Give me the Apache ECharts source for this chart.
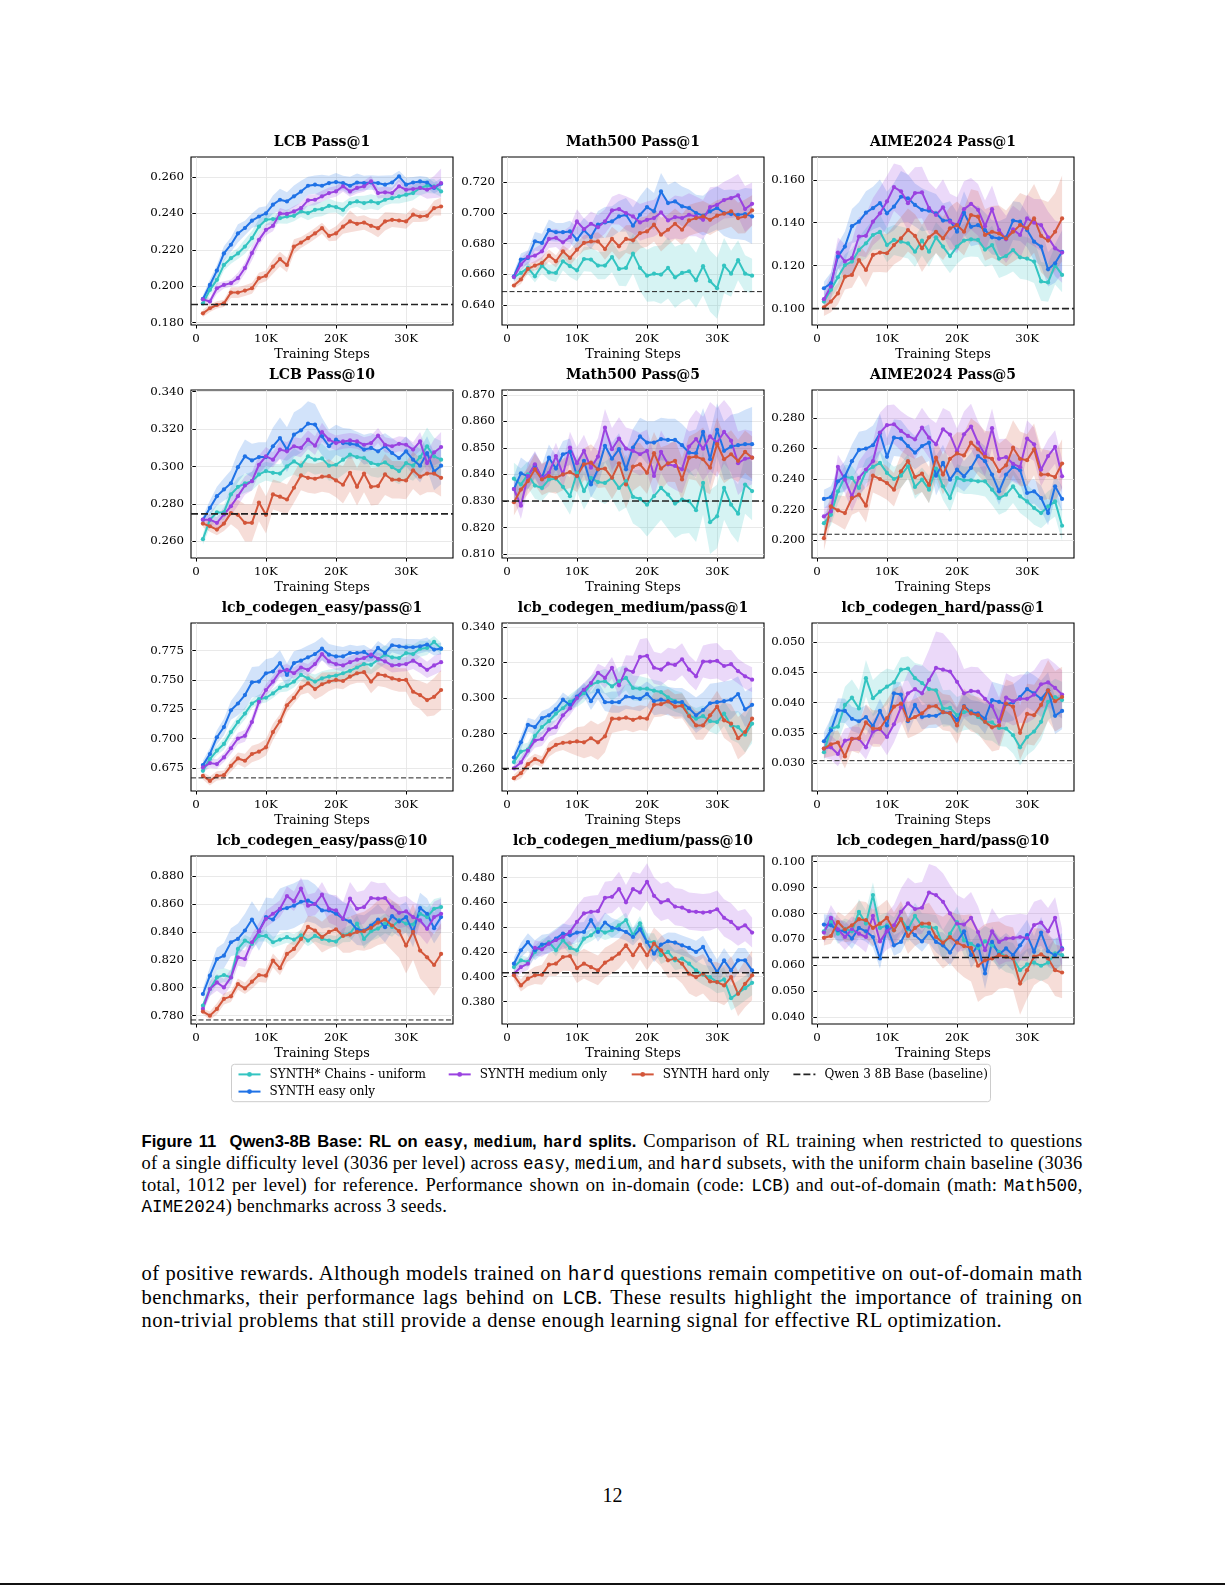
<!DOCTYPE html>
<html><head><meta charset="utf-8">
<script src="https://cdn.jsdelivr.net/npm/echarts@6/dist/echarts.min.js"></script>
<style>
html,body{margin:0;padding:0;background:#fff;}
body{width:1225px;height:1585px;position:relative;overflow:hidden;}
#chart{position:absolute;left:0;top:0;width:1225px;height:1120px;}
.ln{position:absolute;left:141.5px;white-space:nowrap;font-family:'Liberation Serif','Times New Roman',serif;color:#000;}
.cap{font-size:18.5px;line-height:22px;height:22px;letter-spacing:0.25px;}
.body{font-size:20.5px;line-height:24px;height:24px;letter-spacing:0.45px;}
.fig{font-family:'Liberation Sans',Arial,sans-serif;font-weight:bold;font-size:16.6px;letter-spacing:0;}
.mb{font-family:'Liberation Mono',monospace;font-weight:bold;font-size:0.97em;}
.m{font-family:'Liberation Mono',monospace;font-size:0.95em;letter-spacing:0;}
#pg{position:absolute;left:0;width:1225px;text-align:center;top:1483px;font-family:'Liberation Serif',serif;font-size:20px;line-height:24px;}
#edge{position:absolute;left:0;top:1583px;width:1225px;height:2px;background:#111;}
</style></head><body>
<div id="chart"></div>
<div class="ln cap j" style="top:1130px"><span class="fig">Figure 11&nbsp;&nbsp;Qwen3-8B Base: RL on <span class="mb">easy</span>, <span class="mb">medium</span>, <span class="mb">hard</span> splits.</span> Comparison of RL training when restricted to questions</div>
<div class="ln cap j" style="top:1152.3px">of a single difficulty level (3036 per level) across <span class="m">easy</span>, <span class="m">medium</span>, and <span class="m">hard</span> subsets, with the uniform chain baseline (3036</div>
<div class="ln cap j" style="top:1173.6px">total, 1012 per level) for reference. Performance shown on in-domain (code: <span class="m">LCB</span>) and out-of-domain (math: <span class="m">Math500</span>,</div>
<div class="ln cap" style="top:1194.8px"><span class="m">AIME2024</span>) benchmarks across 3 seeds.</div>
<div class="ln body j" style="top:1260.5px">of positive rewards. Although models trained on <span class="m">hard</span> questions remain competitive on out-of-domain math</div>
<div class="ln body j" style="top:1284.7px">benchmarks, their performance lags behind on <span class="m">LCB</span>. These results highlight the importance of training on</div>
<div class="ln body" style="top:1308px">non-trivial problems that still provide a dense enough learning signal for effective RL optimization.</div>
<div id="pg">12</div>
<div id="edge"></div>
<script>
// ---------------- DATA ----------------
const steps = [1000,2000,3000,4000,5000,6000,7000,8000,9000,10000,11000,12000,13000,14000,15000,16000,17000,18000,19000,20000,21000,22000,23000,24000,25000,26000,27000,28000,29000,30000,31000,32000,33000,34000,35000];
const xTicks = [0,10000,20000,30000];
const seriesLabels = ['SYNTH* Chains - uniform','SYNTH easy only','SYNTH medium only','SYNTH hard only'];
const baselineLabel = 'Qwen 3 8B Base (baseline)';
const plotTitles = ['LCB Pass@1','Math500 Pass@1','AIME2024 Pass@1','LCB Pass@10','Math500 Pass@5','AIME2024 Pass@5','lcb_codegen_easy/pass@1','lcb_codegen_medium/pass@1','lcb_codegen_hard/pass@1','lcb_codegen_easy/pass@10','lcb_codegen_medium/pass@10','lcb_codegen_hard/pass@10'];
const baselineValues = [0.190,0.6487,0.100,0.2746,0.830,0.2037,0.6664,0.2604,0.0304,0.7769,0.4032,0.063];

const yTicks_lcb1 = [0.18,0.20,0.22,0.24,0.26];
const yTicks_math1 = [0.64,0.66,0.68,0.70,0.72];
const yTicks_aime1 = [0.10,0.12,0.14,0.16];
const yTicks_lcb10 = [0.26,0.28,0.30,0.32,0.34];
const yTicks_math5 = [0.81,0.82,0.83,0.84,0.85,0.86,0.87];
const yTicks_aime5 = [0.20,0.22,0.24,0.26,0.28];
const yTicks_easy1 = [0.675,0.700,0.725,0.750,0.775];
const yTicks_med1 = [0.26,0.28,0.30,0.32,0.34];
const yTicks_hard1 = [0.030,0.035,0.040,0.045,0.050];
const yTicks_easy10 = [0.78,0.80,0.82,0.84,0.86,0.88];
const yTicks_med10 = [0.38,0.40,0.42,0.44,0.46,0.48];
const yTicks_hard10 = [0.04,0.05,0.06,0.07,0.08,0.09,0.10];

// 1 LCB Pass@1
const lcb1_uniform = [0.1906,0.198,0.2035,0.2117,0.2154,0.218,0.2218,0.2264,0.2328,0.2365,0.2369,0.2374,0.2383,0.2387,0.2411,0.2402,0.242,0.2424,0.2442,0.2435,0.242,0.2457,0.2466,0.2457,0.2466,0.2457,0.2475,0.2484,0.2494,0.2503,0.2512,0.254,0.2552,0.2549,0.2521];
const lcb1_easy = [0.193,0.2007,0.2086,0.218,0.2228,0.229,0.232,0.236,0.2383,0.240,0.2448,0.2475,0.2466,0.2494,0.252,0.2552,0.2558,0.2552,0.2567,0.2572,0.2567,0.2552,0.257,0.2567,0.257,0.2567,0.2558,0.257,0.2604,0.2558,0.257,0.2576,0.257,0.254,0.2563];
const lcb1_medium = [0.1928,0.1916,0.1989,0.2007,0.2017,0.2044,0.21,0.2182,0.2255,0.231,0.2332,0.240,0.2398,0.2411,0.2429,0.2472,0.2475,0.2494,0.2512,0.2521,0.2549,0.2521,0.254,0.2549,0.2576,0.2512,0.2516,0.2512,0.2549,0.253,0.2534,0.254,0.253,0.2545,0.2567];
const lcb1_hard = [0.1851,0.1879,0.1897,0.1906,0.1965,0.1965,0.1976,0.1989,0.2044,0.2057,0.2108,0.2149,0.2117,0.2218,0.224,0.2264,0.229,0.2319,0.2277,0.229,0.2328,0.2356,0.2343,0.235,0.2332,0.2319,0.2356,0.2365,0.2361,0.2356,0.2393,0.2383,0.2387,0.2429,0.2438];
const lcb1_uniform_sd = [0.002,0.003,0.003,0.003,0.003,0.003,0.004,0.004,0.004,0.003,0.003,0.003,0.004,0.003,0.003,0.004,0.004,0.004,0.004,0.003,0.004,0.003,0.003,0.004,0.004,0.004,0.003,0.003,0.004,0.004,0.004,0.004,0.004,0.004,0.003];
const lcb1_easy_sd = [0.002,0.003,0.003,0.004,0.004,0.005,0.004,0.004,0.005,0.004,0.005,0.006,0.005,0.006,0.006,0.005,0.005,0.006,0.004,0.005,0.004,0.005,0.005,0.004,0.004,0.004,0.005,0.004,0.003,0.004,0.003,0.003,0.003,0.003,0.003];
const lcb1_medium_sd = [0.002,0.002,0.003,0.002,0.002,0.003,0.003,0.004,0.003,0.003,0.003,0.003,0.002,0.003,0.003,0.003,0.003,0.003,0.003,0.003,0.003,0.003,0.003,0.003,0.003,0.003,0.003,0.003,0.004,0.004,0.003,0.004,0.005,0.006,0.008];
const lcb1_hard_sd = [0.002,0.002,0.002,0.002,0.003,0.003,0.003,0.003,0.003,0.003,0.004,0.004,0.004,0.004,0.003,0.003,0.003,0.003,0.003,0.004,0.004,0.006,0.004,0.004,0.004,0.005,0.005,0.004,0.004,0.004,0.004,0.003,0.003,0.004,0.005];

// 2 Math500 Pass@1
const math1_uniform = [0.6582,0.6609,0.6642,0.6587,0.6657,0.6613,0.6609,0.6685,0.6653,0.6626,0.670,0.6696,0.6657,0.6657,0.6713,0.6635,0.6642,0.6735,0.6642,0.6591,0.6604,0.6598,0.6642,0.658,0.6609,0.662,0.6561,0.6653,0.6555,0.6509,0.6657,0.6604,0.6692,0.6604,0.6591];
const math1_easy = [0.6587,0.6696,0.6707,0.6816,0.6805,0.6888,0.6875,0.6875,0.688,0.6827,0.6888,0.6843,0.6924,0.6939,0.6945,0.6978,0.6989,0.6917,0.6989,0.7039,0.7011,0.7141,0.7065,0.7076,0.7044,0.7033,0.700,0.6983,0.7011,0.7033,0.700,0.6993,0.6989,0.6993,0.6978];
const math1_medium = [0.6582,0.6663,0.6713,0.6722,0.675,0.6831,0.6838,0.6809,0.6843,0.6945,0.6895,0.693,0.6908,0.6945,0.7017,0.7026,0.700,0.6978,0.6939,0.6956,0.6967,0.7004,0.6952,0.6974,0.6967,0.6989,0.6978,0.6956,0.7039,0.7054,0.7085,0.7098,0.7115,0.7026,0.706];
const math1_hard = [0.6527,0.6566,0.6635,0.6657,0.6674,0.6722,0.6685,0.675,0.6707,0.6761,0.6805,0.6815,0.6815,0.6765,0.6831,0.6783,0.6831,0.6822,0.6869,0.688,0.6924,0.6859,0.6891,0.693,0.6891,0.6952,0.6967,0.6978,0.6956,0.6983,0.6996,0.7011,0.6967,0.6978,0.7017];
const math1_uniform_sd = [0.003,0.003,0.004,0.004,0.005,0.005,0.006,0.006,0.007,0.007,0.008,0.008,0.009,0.009,0.010,0.011,0.012,0.013,0.015,0.017,0.018,0.019,0.020,0.020,0.019,0.018,0.018,0.019,0.020,0.020,0.018,0.015,0.013,0.012,0.011];
const math1_easy_sd = [0.003,0.004,0.005,0.006,0.006,0.007,0.006,0.006,0.007,0.008,0.008,0.008,0.009,0.010,0.010,0.010,0.011,0.012,0.012,0.013,0.012,0.012,0.012,0.013,0.013,0.012,0.012,0.013,0.014,0.014,0.015,0.016,0.016,0.017,0.018];
const math1_medium_sd = [0.003,0.004,0.004,0.005,0.005,0.006,0.006,0.007,0.007,0.008,0.007,0.008,0.008,0.008,0.009,0.010,0.011,0.011,0.012,0.012,0.012,0.013,0.013,0.014,0.014,0.014,0.013,0.013,0.013,0.012,0.012,0.013,0.014,0.015,0.014];
const math1_hard_sd = [0.002,0.003,0.003,0.003,0.004,0.004,0.004,0.004,0.005,0.005,0.005,0.005,0.006,0.007,0.008,0.009,0.009,0.010,0.010,0.010,0.011,0.011,0.010,0.010,0.010,0.010,0.010,0.010,0.010,0.010,0.010,0.010,0.010,0.011,0.010];

// 3 AIME2024 Pass@1
const aime1_uniform = [0.1033,0.1088,0.1146,0.1203,0.1219,0.1273,0.1304,0.1343,0.1358,0.1296,0.132,0.1312,0.1304,0.1265,0.1317,0.1265,0.1332,0.1289,0.1245,0.1289,0.1317,0.1323,0.132,0.1275,0.1296,0.1233,0.1245,0.1273,0.1239,0.1233,0.1219,0.1127,0.1122,0.1203,0.1157];
const aime1_easy = [0.1095,0.1118,0.1242,0.1289,0.1384,0.1405,0.1447,0.1468,0.1491,0.1444,0.1475,0.1521,0.1514,0.1483,0.146,0.1456,0.1444,0.141,0.141,0.1358,0.1447,0.1381,0.1389,0.1366,0.1332,0.1327,0.1332,0.141,0.1405,0.1366,0.1312,0.1289,0.1183,0.1211,0.1265];
const aime1_medium = [0.1044,0.1103,0.1261,0.122,0.1235,0.1336,0.1339,0.1405,0.1444,0.1499,0.1566,0.1546,0.1491,0.1538,0.1541,0.1468,0.1436,0.1472,0.1405,0.1389,0.1463,0.1488,0.146,0.1384,0.1463,0.1366,0.1323,0.1369,0.1343,0.142,0.140,0.1389,0.1332,0.1281,0.1261];
const aime1_hard = [0.1006,0.1033,0.1071,0.1149,0.1157,0.1226,0.118,0.125,0.1261,0.1258,0.1296,0.1327,0.1366,0.1339,0.1281,0.1332,0.1358,0.1327,0.1374,0.1389,0.1358,0.1436,0.1428,0.1343,0.1358,0.135,0.1327,0.1358,0.1389,0.1374,0.142,0.1339,0.1317,0.1358,0.142];
const aime1_uniform_sd = [0.003,0.004,0.005,0.005,0.006,0.006,0.007,0.007,0.008,0.008,0.007,0.007,0.007,0.007,0.007,0.007,0.007,0.008,0.008,0.008,0.008,0.008,0.008,0.008,0.009,0.009,0.009,0.010,0.010,0.010,0.010,0.009,0.009,0.009,0.008];
const aime1_easy_sd = [0.003,0.005,0.006,0.007,0.008,0.009,0.010,0.010,0.011,0.010,0.011,0.012,0.011,0.010,0.010,0.009,0.009,0.008,0.009,0.009,0.010,0.009,0.009,0.008,0.008,0.008,0.009,0.009,0.009,0.008,0.009,0.009,0.008,0.009,0.010];
const aime1_medium_sd = [0.004,0.006,0.007,0.008,0.008,0.009,0.010,0.011,0.012,0.012,0.011,0.012,0.013,0.012,0.012,0.012,0.012,0.013,0.013,0.013,0.013,0.012,0.012,0.012,0.011,0.011,0.011,0.011,0.011,0.011,0.011,0.012,0.012,0.013,0.014];
const aime1_hard_sd = [0.004,0.005,0.005,0.006,0.006,0.007,0.008,0.008,0.009,0.009,0.009,0.010,0.010,0.010,0.011,0.011,0.010,0.010,0.010,0.011,0.011,0.012,0.012,0.012,0.012,0.013,0.013,0.014,0.015,0.015,0.016,0.017,0.018,0.018,0.020];

// 4 LCB Pass@10
const lcb10_uniform = [0.2611,0.2715,0.2754,0.2754,0.285,0.2891,0.2909,0.2921,0.2957,0.2975,0.2966,0.2962,0.300,0.3027,0.3004,0.3054,0.3036,0.3043,0.3004,0.3009,0.3036,0.3063,0.305,0.3045,0.3018,0.3009,0.3022,0.2996,0.2975,0.3018,0.3004,0.305,0.3108,0.3054,0.3036];
const lcb10_easy = [0.2715,0.2778,0.2841,0.2877,0.291,0.2996,0.3054,0.3032,0.305,0.305,0.3108,0.3152,0.309,0.317,0.3193,0.3229,0.3224,0.3161,0.3108,0.3143,0.3125,0.3121,0.3116,0.309,0.3099,0.3081,0.3108,0.3072,0.3045,0.3081,0.3036,0.3004,0.3072,0.2973,0.3004];
const lcb10_medium = [0.2715,0.2715,0.2698,0.2743,0.2787,0.2841,0.2898,0.2921,0.3009,0.3054,0.3036,0.309,0.3081,0.3108,0.3099,0.3143,0.3111,0.3184,0.3143,0.3125,0.3134,0.3139,0.3134,0.3116,0.3125,0.3165,0.3116,0.3108,0.3121,0.3116,0.309,0.3134,0.3018,0.3075,0.3104];
const lcb10_hard = [0.2694,0.268,0.2662,0.2694,0.275,0.2741,0.2698,0.2698,0.2807,0.2741,0.285,0.2838,0.2823,0.2886,0.2952,0.2939,0.2934,0.2945,0.2948,0.2925,0.2902,0.2966,0.2891,0.2962,0.2891,0.2895,0.2957,0.2929,0.2929,0.2925,0.2979,0.2945,0.2962,0.2962,0.2939];
const lcb10_uniform_sd = [0.003,0.004,0.004,0.004,0.004,0.005,0.005,0.005,0.005,0.005,0.005,0.005,0.006,0.007,0.007,0.008,0.008,0.008,0.008,0.008,0.008,0.008,0.007,0.007,0.007,0.007,0.007,0.007,0.007,0.008,0.008,0.009,0.010,0.010,0.010];
const lcb10_easy_sd = [0.002,0.004,0.005,0.006,0.007,0.008,0.009,0.009,0.008,0.008,0.010,0.011,0.012,0.012,0.012,0.012,0.011,0.010,0.009,0.008,0.008,0.008,0.007,0.008,0.008,0.008,0.007,0.008,0.008,0.008,0.008,0.009,0.009,0.010,0.010];
const lcb10_medium_sd = [0.002,0.003,0.003,0.004,0.005,0.005,0.005,0.005,0.005,0.005,0.004,0.005,0.005,0.005,0.005,0.005,0.005,0.005,0.004,0.004,0.004,0.004,0.004,0.004,0.004,0.004,0.004,0.004,0.004,0.004,0.004,0.005,0.006,0.007,0.008];
const lcb10_hard_sd = [0.002,0.003,0.003,0.004,0.006,0.008,0.010,0.010,0.010,0.010,0.008,0.008,0.008,0.008,0.008,0.008,0.008,0.008,0.009,0.009,0.010,0.010,0.010,0.010,0.010,0.010,0.011,0.010,0.010,0.010,0.010,0.010,0.010,0.010,0.010];

// 5 Math500 Pass@5
const math5_uniform = [0.8384,0.8362,0.840,0.8358,0.8349,0.8381,0.8384,0.8353,0.8318,0.8406,0.8337,0.8387,0.8371,0.8368,0.8387,0.8349,0.8375,0.8315,0.8308,0.8286,0.8318,0.8349,0.8324,0.829,0.8305,0.8299,0.8265,0.8368,0.822,0.8242,0.8349,0.8286,0.8252,0.8362,0.8337];
const math5_easy = [0.8345,0.8404,0.8394,0.8434,0.8387,0.8463,0.8422,0.8476,0.8485,0.8394,0.8451,0.8362,0.8419,0.8508,0.8459,0.8495,0.8419,0.8501,0.8543,0.852,0.852,0.8533,0.853,0.853,0.851,0.8482,0.848,0.856,0.8457,0.8568,0.8489,0.8505,0.851,0.8514,0.8514];
const math5_medium = [0.8345,0.8282,0.8394,0.8438,0.8387,0.8406,0.8469,0.840,0.8501,0.8442,0.8489,0.8425,0.8467,0.8576,0.8495,0.8535,0.8497,0.8489,0.8476,0.8489,0.8394,0.8485,0.8438,0.8432,0.8419,0.8505,0.8533,0.8497,0.8543,0.852,0.856,0.8527,0.8442,0.8459,0.8463];
const math5_hard = [0.8295,0.8343,0.8375,0.8419,0.8381,0.8394,0.8387,0.840,0.8409,0.8394,0.8438,0.8444,0.8419,0.8422,0.8387,0.8442,0.8362,0.8429,0.8438,0.8406,0.848,0.8422,0.8442,0.8451,0.8381,0.8463,0.8467,0.8457,0.8425,0.8514,0.8457,0.8476,0.8451,0.8485,0.8463];
const math5_uniform_sd = [0.006,0.006,0.005,0.005,0.005,0.005,0.005,0.006,0.007,0.007,0.007,0.007,0.007,0.008,0.008,0.009,0.010,0.010,0.011,0.012,0.012,0.012,0.013,0.013,0.013,0.012,0.012,0.012,0.012,0.012,0.012,0.011,0.011,0.011,0.011];
const math5_easy_sd = [0.005,0.006,0.005,0.005,0.005,0.005,0.005,0.005,0.005,0.005,0.005,0.005,0.006,0.006,0.006,0.006,0.007,0.007,0.007,0.008,0.008,0.008,0.008,0.008,0.008,0.008,0.009,0.009,0.010,0.010,0.011,0.012,0.012,0.013,0.014];
const math5_medium_sd = [0.004,0.005,0.005,0.005,0.005,0.005,0.005,0.005,0.006,0.006,0.006,0.006,0.007,0.007,0.008,0.008,0.008,0.008,0.008,0.008,0.008,0.008,0.008,0.009,0.009,0.010,0.011,0.012,0.013,0.013,0.012,0.012,0.012,0.011,0.010];
const math5_hard_sd = [0.005,0.005,0.005,0.006,0.006,0.006,0.006,0.006,0.006,0.006,0.006,0.007,0.007,0.007,0.008,0.009,0.009,0.009,0.008,0.008,0.008,0.008,0.007,0.008,0.008,0.008,0.009,0.012,0.010,0.010,0.009,0.009,0.008,0.008,0.008];

// 6 AIME2024 Pass@5
const aime5_uniform = [0.211,0.2165,0.2319,0.2413,0.2407,0.2341,0.2451,0.248,0.2506,0.244,0.240,0.2422,0.2484,0.2348,0.2396,0.233,0.2469,0.2352,0.2275,0.2407,0.2392,0.2392,0.2385,0.2385,0.233,0.2275,0.2297,0.2352,0.2286,0.2253,0.2209,0.2176,0.222,0.2253,0.2093];
const aime5_easy = [0.2269,0.2282,0.2385,0.2418,0.2517,0.2591,0.260,0.2622,0.2701,0.2546,0.2672,0.2666,0.2617,0.2573,0.2617,0.2639,0.2422,0.2506,0.2396,0.2462,0.2418,0.2473,0.2551,0.2517,0.2429,0.2319,0.2429,0.248,0.2458,0.2308,0.2319,0.2275,0.2176,0.2352,0.2269];
const aime5_medium = [0.2154,0.2187,0.248,0.2396,0.2286,0.2407,0.2462,0.2517,0.2705,0.2754,0.276,0.2716,0.2683,0.2661,0.2738,0.2672,0.2628,0.2727,0.2692,0.2582,0.2694,0.2745,0.2639,0.256,0.2734,0.2533,0.2544,0.250,0.2478,0.2666,0.2628,0.2462,0.2551,0.2611,0.2418];
const aime5_hard = [0.2011,0.222,0.2194,0.2176,0.2275,0.2297,0.2225,0.2422,0.240,0.2374,0.233,0.2451,0.2517,0.2413,0.2435,0.2361,0.254,0.2429,0.2533,0.2568,0.2555,0.2639,0.2595,0.2546,0.2533,0.2451,0.249,0.2606,0.2533,0.2524,0.2595,0.2429,0.2429,0.2413,0.2502];
const aime5_uniform_sd = [0.006,0.007,0.008,0.008,0.008,0.008,0.008,0.008,0.008,0.008,0.008,0.008,0.008,0.008,0.008,0.009,0.009,0.009,0.009,0.009,0.009,0.009,0.009,0.010,0.010,0.011,0.011,0.011,0.011,0.011,0.011,0.010,0.010,0.010,0.010];
const aime5_easy_sd = [0.006,0.007,0.008,0.010,0.011,0.012,0.012,0.013,0.013,0.012,0.012,0.012,0.011,0.011,0.012,0.012,0.013,0.012,0.011,0.011,0.010,0.010,0.010,0.010,0.010,0.009,0.009,0.009,0.009,0.008,0.008,0.008,0.008,0.008,0.008];
const aime5_medium_sd = [0.005,0.007,0.008,0.009,0.010,0.011,0.012,0.013,0.013,0.013,0.013,0.013,0.013,0.013,0.013,0.013,0.014,0.014,0.015,0.015,0.015,0.015,0.014,0.014,0.013,0.013,0.012,0.012,0.012,0.012,0.011,0.011,0.011,0.011,0.011];
const aime5_hard_sd = [0.008,0.010,0.010,0.011,0.011,0.011,0.011,0.011,0.011,0.011,0.011,0.011,0.011,0.012,0.012,0.012,0.012,0.013,0.013,0.014,0.015,0.016,0.017,0.017,0.018,0.018,0.018,0.018,0.018,0.017,0.017,0.017,0.016,0.016,0.016];

// 7 lcb_codegen_easy/pass@1
const easy1_uniform = [0.6724,0.6825,0.6897,0.6954,0.7055,0.7141,0.7213,0.7299,0.7336,0.7348,0.7385,0.7434,0.7451,0.7486,0.7543,0.7514,0.7486,0.7514,0.7529,0.7537,0.7557,0.7578,0.7606,0.7635,0.7629,0.7673,0.7716,0.7693,0.7687,0.773,0.7721,0.7767,0.7773,0.7825,0.7767];
const easy1_easy = [0.6773,0.6868,0.7011,0.7098,0.7241,0.7299,0.7371,0.748,0.7486,0.7557,0.7572,0.7644,0.7543,0.7644,0.7664,0.7693,0.7721,0.7767,0.7716,0.7701,0.7701,0.773,0.773,0.7739,0.7701,0.7773,0.773,0.7796,0.7787,0.7779,0.7779,0.7787,0.7802,0.7759,0.7767];
const easy1_medium = [0.6753,0.679,0.6782,0.6839,0.6917,0.700,0.7023,0.7141,0.7313,0.7414,0.7486,0.7572,0.7586,0.7557,0.7606,0.7586,0.7635,0.7721,0.7658,0.7635,0.7624,0.7652,0.7673,0.7687,0.7716,0.7681,0.7658,0.7624,0.7629,0.7635,0.7664,0.7629,0.7586,0.7624,0.7652];
const easy1_hard = [0.6681,0.6638,0.6681,0.6687,0.6767,0.683,0.681,0.6868,0.6888,0.6925,0.7055,0.7147,0.7284,0.7348,0.7434,0.7471,0.7422,0.7463,0.7486,0.750,0.7491,0.7529,0.7557,0.7566,0.7486,0.7549,0.7537,0.7514,0.750,0.750,0.7399,0.7371,0.7328,0.7356,0.7414];
const easy1_uniform_sd = [0.003,0.004,0.004,0.005,0.005,0.005,0.005,0.004,0.004,0.004,0.004,0.004,0.005,0.005,0.005,0.005,0.006,0.006,0.006,0.006,0.006,0.006,0.007,0.007,0.008,0.008,0.008,0.008,0.008,0.008,0.008,0.007,0.006,0.005,0.005];
const easy1_easy_sd = [0.004,0.005,0.006,0.007,0.008,0.010,0.012,0.013,0.013,0.012,0.012,0.011,0.010,0.010,0.010,0.010,0.010,0.010,0.009,0.009,0.008,0.007,0.006,0.006,0.006,0.006,0.006,0.006,0.007,0.007,0.007,0.006,0.006,0.005,0.005];
const easy1_medium_sd = [0.004,0.004,0.004,0.004,0.005,0.005,0.005,0.005,0.005,0.005,0.005,0.005,0.005,0.005,0.005,0.005,0.005,0.005,0.005,0.005,0.005,0.005,0.005,0.005,0.005,0.005,0.006,0.006,0.006,0.006,0.007,0.007,0.007,0.008,0.008];
const easy1_hard_sd = [0.003,0.004,0.004,0.004,0.005,0.005,0.006,0.007,0.007,0.007,0.007,0.006,0.006,0.005,0.006,0.008,0.009,0.010,0.008,0.007,0.007,0.007,0.008,0.009,0.010,0.010,0.010,0.010,0.010,0.010,0.011,0.012,0.014,0.016,0.017];

// 8 lcb_codegen_medium/pass@1
const med1_uniform = [0.264,0.2699,0.271,0.2787,0.2837,0.287,0.2913,0.2943,0.2981,0.300,0.3028,0.3076,0.3091,0.3095,0.3066,0.3095,0.3114,0.3057,0.3053,0.3053,0.3042,0.3034,0.3004,0.2983,0.2971,0.2903,0.2884,0.2899,0.287,0.2865,0.2913,0.2846,0.2837,0.2794,0.2856];
const med1_easy = [0.2665,0.2751,0.285,0.2837,0.2888,0.2903,0.2937,0.2991,0.2962,0.3009,0.3047,0.2983,0.3042,0.2977,0.2977,0.2977,0.3009,0.3004,0.2996,0.3023,0.2983,0.2991,0.2983,0.2977,0.2977,0.2943,0.2903,0.2933,0.2971,0.2977,0.2983,0.2991,0.3023,0.2937,0.2962];
const med1_medium = [0.2605,0.2638,0.2704,0.2761,0.277,0.2824,0.2837,0.2903,0.2943,0.300,0.3047,0.3085,0.3143,0.3114,0.3171,0.3072,0.3161,0.3148,0.3232,0.3238,0.3171,0.3161,0.3194,0.3187,0.3219,0.3161,0.3123,0.3206,0.3206,0.321,0.3181,0.3191,0.3152,0.3123,0.3104];
const med1_hard = [0.2549,0.2577,0.2628,0.2657,0.2642,0.271,0.2737,0.2748,0.2751,0.2756,0.2751,0.2774,0.2751,0.2785,0.2884,0.2884,0.289,0.2878,0.289,0.2884,0.2962,0.2966,0.2981,0.2952,0.2957,0.2899,0.2846,0.2846,0.2903,0.2952,0.2875,0.2856,0.2774,0.2809,0.2884];
const med1_uniform_sd = [0.003,0.004,0.004,0.004,0.004,0.004,0.004,0.004,0.004,0.005,0.005,0.005,0.006,0.007,0.008,0.008,0.007,0.007,0.007,0.006,0.006,0.006,0.006,0.006,0.006,0.006,0.006,0.006,0.006,0.007,0.007,0.008,0.009,0.010,0.011];
const med1_easy_sd = [0.003,0.004,0.004,0.004,0.004,0.004,0.004,0.004,0.004,0.004,0.004,0.005,0.005,0.005,0.006,0.006,0.007,0.007,0.007,0.007,0.008,0.008,0.008,0.008,0.008,0.009,0.010,0.010,0.011,0.011,0.011,0.011,0.010,0.010,0.010];
const med1_medium_sd = [0.002,0.003,0.003,0.004,0.004,0.004,0.004,0.004,0.004,0.004,0.004,0.004,0.005,0.006,0.006,0.007,0.008,0.009,0.010,0.010,0.009,0.009,0.009,0.009,0.009,0.008,0.008,0.009,0.010,0.010,0.009,0.008,0.007,0.007,0.007];
const med1_hard_sd = [0.002,0.003,0.003,0.003,0.003,0.004,0.004,0.004,0.006,0.008,0.009,0.010,0.010,0.009,0.008,0.007,0.007,0.007,0.007,0.007,0.007,0.007,0.007,0.007,0.007,0.007,0.008,0.008,0.008,0.009,0.010,0.011,0.012,0.012,0.012];

// 9 lcb_codegen_hard/pass@1
const hard1_uniform = [0.0318,0.0357,0.036,0.0396,0.0408,0.039,0.044,0.0407,0.0418,0.0426,0.0433,0.0454,0.0456,0.044,0.0432,0.0422,0.042,0.039,0.0391,0.0379,0.0384,0.0386,0.0376,0.0368,0.0367,0.0358,0.0357,0.0346,0.0326,0.0343,0.0352,0.0368,0.0401,0.0409,0.0404];
const hard1_easy = [0.0336,0.0354,0.0387,0.0386,0.0373,0.0369,0.0376,0.0361,0.0386,0.0362,0.0415,0.0413,0.0369,0.0396,0.0376,0.0378,0.0378,0.0384,0.0383,0.0371,0.0394,0.0384,0.0382,0.0373,0.0404,0.0401,0.0397,0.040,0.0409,0.0422,0.0415,0.0406,0.042,0.0378,0.0386];
const hard1_medium = [0.0324,0.0326,0.0315,0.0337,0.034,0.034,0.0326,0.0352,0.0356,0.0343,0.0364,0.0392,0.0415,0.0422,0.0415,0.0437,0.0457,0.0454,0.0451,0.0434,0.0415,0.0419,0.0418,0.0406,0.0394,0.0368,0.0408,0.0402,0.0406,0.0406,0.0413,0.043,0.0433,0.0424,0.0413];
const hard1_hard = [0.0324,0.0331,0.0334,0.0311,0.034,0.0341,0.0367,0.0357,0.0357,0.0374,0.0393,0.0398,0.0371,0.0376,0.0382,0.0393,0.0394,0.0384,0.0382,0.0362,0.0393,0.0382,0.0379,0.0368,0.0359,0.0362,0.0398,0.0393,0.035,0.0381,0.0379,0.0396,0.042,0.0402,0.0409];
const hard1_uniform_sd = [0.0015,0.002,0.0025,0.003,0.003,0.003,0.003,0.003,0.003,0.003,0.002,0.002,0.002,0.0025,0.003,0.003,0.003,0.003,0.003,0.003,0.003,0.003,0.003,0.003,0.003,0.003,0.003,0.003,0.003,0.003,0.003,0.003,0.003,0.003,0.003];
const hard1_easy_sd = [0.0015,0.002,0.002,0.002,0.002,0.002,0.002,0.002,0.002,0.002,0.002,0.002,0.002,0.002,0.002,0.002,0.002,0.002,0.002,0.002,0.002,0.002,0.002,0.0025,0.003,0.003,0.003,0.003,0.003,0.003,0.003,0.003,0.003,0.003,0.003];
const hard1_medium_sd = [0.0015,0.002,0.002,0.002,0.002,0.002,0.002,0.002,0.0025,0.003,0.003,0.003,0.0035,0.004,0.0045,0.005,0.006,0.006,0.005,0.005,0.004,0.004,0.004,0.004,0.004,0.004,0.004,0.004,0.004,0.004,0.004,0.004,0.004,0.004,0.004];
const hard1_hard_sd = [0.0015,0.002,0.002,0.002,0.002,0.0025,0.003,0.003,0.003,0.003,0.003,0.003,0.003,0.003,0.003,0.003,0.003,0.003,0.003,0.003,0.003,0.003,0.003,0.0035,0.004,0.004,0.004,0.004,0.0045,0.005,0.005,0.005,0.005,0.005,0.005];

// 10 lcb_codegen_easy/pass@10
const easy10_uniform = [0.7871,0.7991,0.8074,0.8091,0.8074,0.8278,0.8338,0.8314,0.8371,0.8371,0.8326,0.8345,0.8362,0.8345,0.8376,0.8338,0.8371,0.835,0.8338,0.8331,0.8376,0.8388,0.846,0.835,0.8405,0.8424,0.846,0.8436,0.8484,0.846,0.8453,0.853,0.8506,0.8566,0.8578];
const easy10_easy = [0.7955,0.8086,0.8206,0.823,0.8326,0.835,0.841,0.8489,0.8405,0.8506,0.8489,0.8561,0.8571,0.8588,0.8616,0.8624,0.860,0.8554,0.8554,0.853,0.8494,0.8475,0.8417,0.841,0.8446,0.8489,0.8434,0.8513,0.8475,0.8506,0.840,0.8571,0.853,0.8427,0.8506];
const easy10_medium = [0.7848,0.7991,0.8038,0.8002,0.8074,0.8218,0.8206,0.8326,0.8405,0.8494,0.853,0.8566,0.8657,0.8619,0.8711,0.8588,0.860,0.8667,0.8566,0.8554,0.8494,0.8638,0.8566,0.8578,0.8643,0.8638,0.8643,0.8578,0.8537,0.8547,0.8506,0.8482,0.8422,0.8506,0.853];
const easy10_hard = [0.7829,0.780,0.7848,0.792,0.7938,0.8026,0.7995,0.8043,0.8091,0.8086,0.8195,0.814,0.8242,0.8278,0.835,0.8436,0.841,0.8362,0.840,0.8419,0.8371,0.8381,0.840,0.8405,0.8429,0.8467,0.8489,0.8446,0.8405,0.8302,0.840,0.8266,0.8218,0.8163,0.8242];
const easy10_uniform_sd = [0.003,0.005,0.005,0.005,0.005,0.005,0.004,0.004,0.004,0.004,0.004,0.004,0.004,0.004,0.004,0.004,0.004,0.004,0.004,0.004,0.005,0.006,0.006,0.007,0.007,0.007,0.007,0.007,0.007,0.007,0.007,0.007,0.007,0.007,0.007];
const easy10_easy_sd = [0.004,0.006,0.008,0.009,0.010,0.011,0.012,0.013,0.014,0.014,0.015,0.015,0.016,0.016,0.016,0.015,0.014,0.013,0.012,0.012,0.012,0.012,0.011,0.011,0.011,0.011,0.011,0.011,0.011,0.011,0.011,0.011,0.011,0.011,0.011];
const easy10_medium_sd = [0.003,0.005,0.006,0.006,0.006,0.006,0.006,0.006,0.006,0.006,0.006,0.006,0.007,0.007,0.008,0.008,0.008,0.009,0.010,0.011,0.012,0.012,0.012,0.012,0.012,0.011,0.011,0.011,0.011,0.011,0.011,0.011,0.011,0.011,0.011];
const easy10_hard_sd = [0.002,0.003,0.004,0.004,0.004,0.004,0.004,0.005,0.005,0.005,0.005,0.005,0.006,0.006,0.007,0.008,0.010,0.011,0.012,0.012,0.012,0.013,0.013,0.014,0.015,0.016,0.017,0.018,0.019,0.020,0.020,0.020,0.021,0.022,0.022];

// 11 lcb_codegen_medium/pass@10
const med10_uniform = [0.4078,0.4132,0.4119,0.420,0.4253,0.428,0.4213,0.4294,0.4232,0.4213,0.4307,0.4334,0.4383,0.4356,0.4375,0.4415,0.4456,0.4334,0.443,0.428,0.428,0.4173,0.420,0.4132,0.4146,0.4105,0.4051,0.4016,0.3997,0.3957,0.3978,0.3827,0.3867,0.3908,0.3951];
const med10_easy = [0.4105,0.4213,0.428,0.4213,0.4259,0.4267,0.4307,0.4348,0.4334,0.4356,0.4361,0.4456,0.4361,0.4437,0.4394,0.4383,0.4361,0.4321,0.4383,0.428,0.4186,0.4259,0.4286,0.4275,0.4253,0.4232,0.420,0.424,0.4132,0.4038,0.4132,0.4051,0.4132,0.4132,0.4051];
const med10_medium = [0.4024,0.4078,0.4105,0.4232,0.4221,0.4267,0.4294,0.4321,0.4361,0.4442,0.451,0.4523,0.4528,0.4636,0.4644,0.4706,0.460,0.4706,0.4679,0.4765,0.4652,0.460,0.4617,0.4565,0.4557,0.4528,0.4523,0.4517,0.4523,0.4544,0.4475,0.4442,0.4389,0.4415,0.4356];
const med10_hard = [0.4011,0.393,0.3984,0.4011,0.4016,0.4097,0.4105,0.4159,0.4167,0.407,0.4105,0.4078,0.4051,0.4113,0.4146,0.4186,0.4253,0.4173,0.4259,0.4173,0.4267,0.4213,0.4132,0.4146,0.4105,0.4024,0.3997,0.4024,0.3962,0.3957,0.393,0.3997,0.3862,0.3943,0.4011];
const med10_uniform_sd = [0.004,0.004,0.004,0.005,0.005,0.005,0.005,0.005,0.005,0.005,0.005,0.005,0.006,0.006,0.006,0.006,0.006,0.006,0.006,0.007,0.007,0.007,0.007,0.008,0.008,0.008,0.008,0.008,0.009,0.009,0.010,0.010,0.010,0.010,0.010];
const med10_easy_sd = [0.005,0.006,0.007,0.008,0.008,0.008,0.008,0.008,0.008,0.008,0.008,0.008,0.008,0.008,0.008,0.007,0.007,0.007,0.007,0.007,0.007,0.007,0.007,0.008,0.008,0.008,0.009,0.009,0.010,0.010,0.010,0.010,0.010,0.010,0.010];
const med10_medium_sd = [0.004,0.005,0.005,0.006,0.006,0.007,0.008,0.010,0.012,0.013,0.013,0.013,0.013,0.013,0.013,0.014,0.014,0.014,0.015,0.015,0.015,0.015,0.015,0.015,0.015,0.015,0.015,0.015,0.015,0.015,0.015,0.015,0.014,0.013,0.012];
const med10_hard_sd = [0.004,0.005,0.006,0.007,0.008,0.009,0.010,0.011,0.012,0.012,0.012,0.012,0.012,0.012,0.012,0.012,0.012,0.012,0.012,0.012,0.013,0.013,0.014,0.015,0.016,0.016,0.016,0.016,0.016,0.016,0.016,0.017,0.018,0.019,0.020];

// 12 lcb_codegen_hard/pass@10
const hard10_uniform = [0.0731,0.0767,0.0722,0.0741,0.0731,0.0806,0.0761,0.0871,0.0744,0.0754,0.0735,0.078,0.0739,0.0791,0.0751,0.0748,0.0744,0.0677,0.0722,0.0767,0.0696,0.0683,0.0667,0.0692,0.0677,0.0652,0.0633,0.0626,0.0581,0.0603,0.061,0.0598,0.061,0.0646,0.0639];
const hard10_easy = [0.0757,0.0754,0.0735,0.0731,0.0703,0.0744,0.0731,0.0709,0.0626,0.0748,0.0677,0.069,0.0744,0.0716,0.0692,0.0726,0.069,0.0677,0.0649,0.0692,0.0731,0.0639,0.0677,0.0568,0.069,0.0642,0.0665,0.0639,0.0677,0.0716,0.0652,0.0726,0.0654,0.0639,0.0665];
const hard10_medium = [0.0726,0.0783,0.0739,0.0709,0.0739,0.0722,0.0709,0.0791,0.0692,0.0731,0.0754,0.0806,0.0839,0.0817,0.0822,0.0881,0.0871,0.0845,0.080,0.0761,0.0757,0.0783,0.0728,0.0658,0.0731,0.069,0.0703,0.0705,0.0709,0.0705,0.0755,0.0765,0.0731,0.0783,0.0661];
const hard10_hard = [0.0706,0.0713,0.0767,0.0739,0.0754,0.0778,0.0774,0.0744,0.0761,0.0783,0.0735,0.0778,0.0713,0.0744,0.0761,0.0761,0.0709,0.0687,0.0709,0.0687,0.0674,0.0667,0.0598,0.0619,0.0626,0.0639,0.0633,0.0626,0.0529,0.0581,0.0633,0.0642,0.0626,0.0581,0.0572];
const hard10_uniform_sd = [0.004,0.004,0.004,0.004,0.004,0.005,0.005,0.005,0.005,0.005,0.005,0.005,0.005,0.005,0.005,0.005,0.005,0.006,0.006,0.006,0.006,0.006,0.006,0.006,0.006,0.006,0.006,0.006,0.006,0.006,0.006,0.006,0.006,0.006,0.006];
const hard10_easy_sd = [0.004,0.004,0.004,0.004,0.004,0.004,0.004,0.004,0.004,0.004,0.004,0.004,0.004,0.004,0.004,0.004,0.004,0.005,0.005,0.005,0.005,0.005,0.005,0.006,0.006,0.006,0.006,0.006,0.006,0.006,0.006,0.006,0.006,0.006,0.006];
const hard10_medium_sd = [0.004,0.005,0.005,0.005,0.005,0.005,0.006,0.006,0.006,0.007,0.008,0.009,0.010,0.010,0.010,0.011,0.011,0.011,0.011,0.011,0.010,0.010,0.010,0.009,0.009,0.009,0.009,0.009,0.009,0.009,0.009,0.009,0.009,0.008,0.008];
const hard10_hard_sd = [0.003,0.003,0.004,0.005,0.006,0.007,0.007,0.007,0.007,0.007,0.007,0.007,0.007,0.007,0.007,0.008,0.009,0.010,0.010,0.011,0.012,0.013,0.014,0.014,0.014,0.013,0.012,0.012,0.012,0.011,0.011,0.010,0.010,0.010,0.010];

// ---------------- ASSEMBLY ----------------
const plots = [
  {ticks:yTicks_lcb1, range:[0.1787,0.271], thick:true, m:[lcb1_uniform,lcb1_easy,lcb1_medium,lcb1_hard], s:[lcb1_uniform_sd,lcb1_easy_sd,lcb1_medium_sd,lcb1_hard_sd]},
  {ticks:yTicks_math1, range:[0.6269,0.7366], thick:false, m:[math1_uniform,math1_easy,math1_medium,math1_hard], s:[math1_uniform_sd,math1_easy_sd,math1_medium_sd,math1_hard_sd]},
  {ticks:yTicks_aime1, range:[0.0924,0.1706], thick:true, m:[aime1_uniform,aime1_easy,aime1_medium,aime1_hard], s:[aime1_uniform_sd,aime1_easy_sd,aime1_medium_sd,aime1_hard_sd]},
  {ticks:yTicks_lcb10, range:[0.251,0.3409], thick:true, m:[lcb10_uniform,lcb10_easy,lcb10_medium,lcb10_hard], s:[lcb10_uniform_sd,lcb10_easy_sd,lcb10_medium_sd,lcb10_hard_sd]},
  {ticks:yTicks_math5, range:[0.8085,0.8718], thick:true, m:[math5_uniform,math5_easy,math5_medium,math5_hard], s:[math5_uniform_sd,math5_easy_sd,math5_medium_sd,math5_hard_sd]},
  {ticks:yTicks_aime5, range:[0.1881,0.2985], thick:false, m:[aime5_uniform,aime5_easy,aime5_medium,aime5_hard], s:[aime5_uniform_sd,aime5_easy_sd,aime5_medium_sd,aime5_hard_sd]},
  {ticks:yTicks_easy1, range:[0.6552,0.7986], thick:false, m:[easy1_uniform,easy1_easy,easy1_medium,easy1_hard], s:[easy1_uniform_sd,easy1_easy_sd,easy1_medium_sd,easy1_hard_sd]},
  {ticks:yTicks_med1, range:[0.2477,0.3423], thick:true, m:[med1_uniform,med1_easy,med1_medium,med1_hard], s:[med1_uniform_sd,med1_easy_sd,med1_medium_sd,med1_hard_sd]},
  {ticks:yTicks_hard1, range:[0.0254,0.0531], thick:false, m:[hard1_uniform,hard1_easy,hard1_medium,hard1_hard], s:[hard1_uniform_sd,hard1_easy_sd,hard1_medium_sd,hard1_hard_sd]},
  {ticks:yTicks_easy10, range:[0.774,0.8944], thick:false, m:[easy10_uniform,easy10_easy,easy10_medium,easy10_hard], s:[easy10_uniform_sd,easy10_easy_sd,easy10_medium_sd,easy10_hard_sd]},
  {ticks:yTicks_med10, range:[0.3619,0.4973], thick:true, m:[med10_uniform,med10_easy,med10_medium,med10_hard], s:[med10_uniform_sd,med10_easy_sd,med10_medium_sd,med10_hard_sd]},
  {ticks:yTicks_hard10, range:[0.0373,0.1022], thick:true, m:[hard10_uniform,hard10_easy,hard10_medium,hard10_hard], s:[hard10_uniform_sd,hard10_easy_sd,hard10_medium_sd,hard10_hard_sd]}
];

const colors = ['#33c4c1','#1f72e6','#9a42e0','#d3563a'];
function rgba(hex, a) {
  const n = parseInt(hex.slice(1), 16);
  return 'rgba(' + ((n >> 16) & 255) + ',' + ((n >> 8) & 255) + ',' + (n & 255) + ',' + a + ')';
}
const colLeft = [191,502,812], rowTop = [157,390,623,856], W = 262, H = 168;
const XMIN = -700, XMAX = 36700;
const FONT = "'DejaVu Serif', serif";

function bandRenderer(mean, sd, fill) {
  return function (params, api) {
    if (params.dataIndex !== 0) return null;
    const up = [], lo = [];
    for (let j = 0; j < steps.length; j++) {
      up.push(api.coord([steps[j], mean[j] + sd[j]]));
      lo.push(api.coord([steps[j], mean[j] - sd[j]]));
    }
    const cs = params.coordSys;
    const pts = up.concat(lo.reverse()).map(p => [
      Math.min(Math.max(p[0], cs.x), cs.x + cs.width),
      Math.min(Math.max(p[1], cs.y), cs.y + cs.height)
    ]);
    return {type:'polygon', shape:{points:pts}, style:{fill:fill, stroke:null}, silent:true};
  };
}

const grids = [], xAxes = [], yAxes = [], series = [], graphics = [];
plots.forEach((p, i) => {
  const col = i % 3, row = Math.floor(i / 3);
  const L = colLeft[col], T = rowTop[row];
  grids.push({left:L, top:T, width:W, height:H, show:true, borderColor:'#000', borderWidth:1.1, backgroundColor:'rgba(0,0,0,0)', containLabel:false, outerBoundsMode:'none'});
  xAxes.push({type:'value', gridIndex:i, min:XMIN, max:XMAX,
    axisLine:{show:false},
    axisTick:{show:true, customValues:xTicks, length:3.5, lineStyle:{color:'#000', width:1}},
    axisLabel:{customValues:xTicks, margin:8, color:'#000', fontFamily:FONT, fontSize:11.8, formatter:v => v === 0 ? '0' : (v/1000) + 'K'},
    splitLine:{show:true, lineStyle:{color:'#e3e3e3', width:0.8}},
    name:'Training Steps', nameLocation:'middle', nameGap:23,
    nameTextStyle:{color:'#000', fontFamily:FONT, fontSize:12.8}});
  yAxes.push({type:'value', gridIndex:i, min:p.range[0], max:p.range[1],
    axisLine:{show:false},
    axisTick:{show:true, customValues:p.ticks, length:3.5, lineStyle:{color:'#000', width:1}},
    axisLabel:{customValues:p.ticks, margin:7, color:'#000', fontFamily:FONT, fontSize:11.8, formatter:v => v.toFixed(3)},
    splitLine:{show:true, lineStyle:{color:'#e3e3e3', width:0.8}}});
  graphics.push({type:'text', x:L + W/2, y:T - 15, style:{text:plotTitles[i], font:"bold 14px 'DejaVu Serif', serif", fill:'#000', textAlign:'center', textVerticalAlign:'middle'}, silent:true});
  for (let k = 0; k < 4; k++) {
    const m = p.m[k], s = p.s[k], c = colors[k];
    series.push({type:'custom', name:'band', xAxisIndex:i, yAxisIndex:i, silent:true, z:2, clip:true,
      data:steps.map((x,j) => [x, m[j]-s[j], m[j]+s[j]]), encode:{x:0, y:[1,2]},
      renderItem:bandRenderer(m, s, rgba(c, 0.2))});
    series.push({type:'line', name:seriesLabels[k], xAxisIndex:i, yAxisIndex:i,
      data:steps.map((x,j) => [x, m[j]]), symbol:'circle', symbolSize:4.2, showSymbol:true,
      itemStyle:{color:c}, lineStyle:{color:c, width:2}, z:3});
  }
  series.push({type:'line', name:baselineLabel, xAxisIndex:i, yAxisIndex:i,
    data:[[XMIN, baselineValues[i]],[XMAX, baselineValues[i]]], symbol:'none',
    lineStyle:{color:'#222', width:p.thick ? 1.6 : 1, type:p.thick ? [7,3] : [5,2.5]}, z:4, silent:true});
});

// legend frame
graphics.push({type:'rect', shape:{x:231.5, y:1064.3, width:759, height:37.4, r:3}, style:{fill:'#fff', stroke:'#cccccc', lineWidth:1}, z:-1, silent:true});
// baseline legend entry
graphics.push({type:'line', shape:{x1:793.4, y1:1074.4, x2:815.4, y2:1074.4}, style:{stroke:'#222', lineWidth:1.6, lineDash:[7,3]}, silent:true});
graphics.push({type:'text', x:824.4, y:1074.4, style:{text:baselineLabel, font:"12px 'DejaVu Serif', serif", fill:'#000', textAlign:'left', textVerticalAlign:'middle'}, silent:true});

const legCommon = {orient:'horizontal', padding:0, itemWidth:22, itemHeight:6, selectedMode:false,
  textStyle:{fontFamily:FONT, fontSize:12, color:'#000', lineHeight:14, padding:[0,0,0,4]}};
const legends = [
  Object.assign({data:[seriesLabels[0]], left:237.5, top:1067.4}, legCommon),
  Object.assign({data:[seriesLabels[2]], left:447.7, top:1067.4}, legCommon),
  Object.assign({data:[seriesLabels[3]], left:630.7, top:1067.4}, legCommon),
  Object.assign({data:[seriesLabels[1]], left:237.5, top:1084.6}, legCommon)
];

const chart = echarts.init(document.getElementById('chart'), null, {renderer:'canvas'});
chart.setOption({
  animation:false,
  backgroundColor:'#fff',
  grid:grids, xAxis:xAxes, yAxis:yAxes, series:series,
  legend:legends,
  graphic:{elements:graphics}
});

// justify caption/body lines to full text width
document.querySelectorAll('.j').forEach(el => {
  const w = el.getBoundingClientRect().width;
  const n = (el.textContent.match(/[ \u00a0]/g) || []).length;
  if (n > 0) el.style.wordSpacing = ((941 - w) / n) + 'px';
});
</script>
</body></html>
